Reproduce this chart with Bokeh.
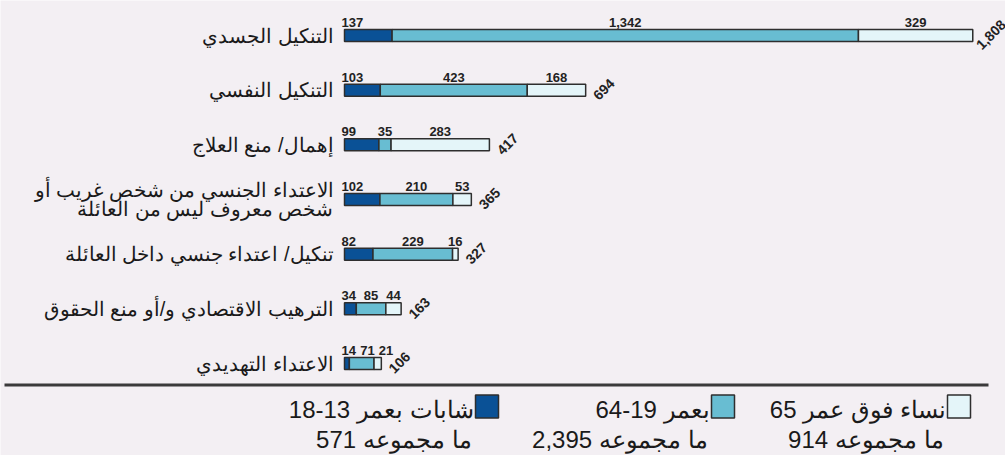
import numpy as np
from bokeh.plotting import figure
from bokeh.models import Range1d
from bokeh.core.properties import value
from bokeh.embed import file_html
from bokeh.resources import INLINE

# ---------------- data ----------------
categories = [
    "التنكيل الجسدي",
    "التنكيل النفسي",
    "إهمال/ منع العلاج",
    "الاعتداء الجنسي من شخص غريب أو\nشخص معروف ليس من العائلة",
    "تنكيل/ اعتداء جنسي داخل العائلة",
    "الترهيب الاقتصادي و/أو منع الحقوق",
    "الاعتداء التهديدي",
]
girls = [137, 103, 99, 102, 82, 34, 14]
adults = [1342, 423, 35, 210, 229, 85, 71]
elderly = [329, 168, 283, 53, 16, 44, 21]
series_names = ["شابات بعمر 13-18", "بعمر 19-64", "نساء فوق عمر 65"]
total_prefix = "ما مجموعه"
colors = ["#0a5196", "#68bdd2", "#e4f5f9"]

# ---------------- layout ----------------
BG = "#f3eff3"
FONT = "Liberation Sans"
W, H = 1005, 455
X0 = 344                 # pixel of value zero
SCALE = 0.3475           # pixels per unit
ROW0 = 35                # pixel of first row centre
STEP = 54.67             # pixels between rows


def xd(px):
    return (px - X0) / SCALE


def yd(py):
    return (ROW0 - py) / STEP


def label_width(s):
    # approximate pixel width of a 13px bold label
    return sum(3.6 if c == "," else 7.3 for c in s)


p = figure(width=W, height=H, output_backend="svg", toolbar_location=None,
           x_range=Range1d(xd(0), xd(W)),
           y_range=Range1d(yd(H), yd(0)),
           x_axis_location=None, y_axis_location=None, min_border=0)
p.grid.visible = False
p.outline_line_color = None
p.background_fill_color = BG
p.border_fill_color = BG

series = [girls, adults, elderly]
n = len(categories)
ys = -np.arange(n, dtype=float)

# label positions (segment centres, pushed apart where they would collide)
label_x = [[0.0] * n for _ in series]
label_txt = [[f"{v:,}" for v in s] for s in series]
for i in range(n):
    start = 0.0
    prev_right = None
    for k, s in enumerate(series):
        txt = label_txt[k][i]
        wpx = label_width(txt)
        if k == 0:
            left_px = X0 - 3
        else:
            centre_px = X0 + (start + s[i] / 2) * SCALE
            left_px = centre_px - wpx / 2
            left_px = max(left_px, prev_right + 4)
        prev_right = left_px + wpx
        label_x[k][i] = xd(left_px + wpx / 2)
        start += s[i]

left = np.zeros(n)
for k, (vals, color) in enumerate(zip(series, colors)):
    v = np.array(vals, dtype=float)
    p.hbar(y=ys, left=left, right=left + v, height=12 / STEP,
           fill_color=color, line_color="#2e2e2e", line_width=1.5)
    p.text(x=label_x[k], y=ys, text=label_txt[k], y_offset=-13,
           text_align="center", text_baseline="alphabetic",
           text_font=value(FONT), text_font_style="bold", text_font_size="13px",
           text_color="#222222")
    left = left + v

totals = left
p.text(x=totals, y=ys, text=[f"{int(t):,}" for t in totals], x_offset=18,
       y_offset=-1, angle=np.pi / 4, text_align="center", text_baseline="middle",
       text_font=value(FONT), text_font_style="bold", text_font_size="14px",
       text_color="#222222")

p.text(x=np.zeros(n), y=ys, text=categories, x_offset=-11,
       text_align="right", text_baseline="middle", text_line_height=0.85,
       text_font=value(FONT), text_font_size="20px", text_color="#1a1a1a")

# separator line
p.segment(x0=[xd(4)], y0=[yd(384.5)], x1=[xd(988)], y1=[yd(384.5)],
          line_color="#3a3a3a", line_width=3)

# legend
sq_right = [498, 734, 970]
SQ = 23
for name, vals, color, r in zip(series_names, series, colors, sq_right):
    sl = r - SQ
    p.scatter(x=[xd(r - SQ / 2)], y=[yd(406)], marker="square", size=SQ,
              fill_color=color, line_color="#2e2e2e", line_width=1.5)
    p.text(x=[xd(sl - 2)], y=[yd(409)], text=[name], text_align="right",
           text_baseline="alphabetic", text_font=value(FONT),
           text_font_size="24px", text_color="#1a1a1a")
    p.text(x=[xd(sl - 4)], y=[yd(439)], text=[f"{total_prefix} {sum(vals):,}"],
           text_align="right", text_baseline="alphabetic", text_font=value(FONT),
           text_font_size="24px", text_color="#1a1a1a")

html = file_html(p, INLINE)
html = html.replace("<body>", f'<body style="background:{BG}">', 1)
open("out.html", "w").write(html)
